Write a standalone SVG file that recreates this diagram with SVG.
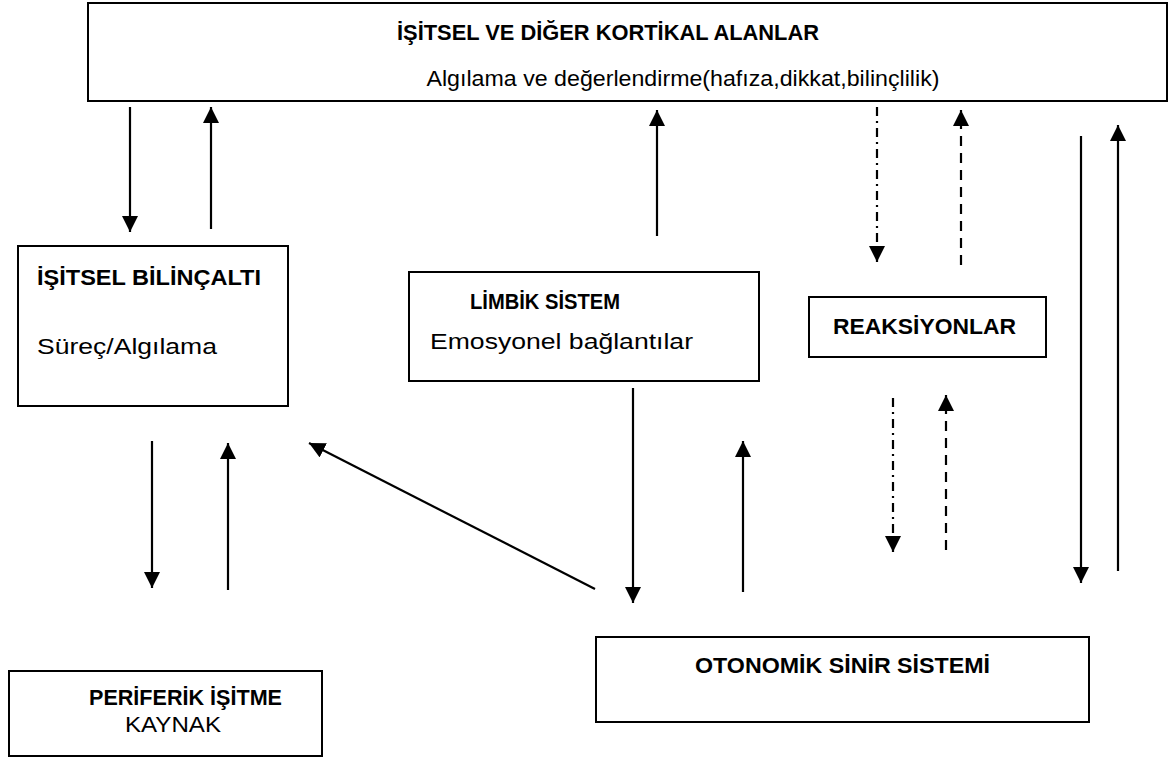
<svg xmlns="http://www.w3.org/2000/svg" width="1171" height="760" viewBox="0 0 1171 760">
<style>
.box{fill:#fff;stroke:#000;stroke-width:2}
.b{font-family:"Liberation Sans",Arial,sans-serif;font-weight:bold;font-size:22px;fill:#000}
.n{font-family:"Liberation Sans",Arial,sans-serif;font-size:22px;fill:#000}
.ln{stroke:#000;stroke-width:2.2;fill:none}
.dd{stroke-dasharray:9 5 2 5}
.da{stroke-dasharray:10 7}
</style>
<defs>
<marker id="ah" markerUnits="userSpaceOnUse" markerWidth="16" markerHeight="16" viewBox="0 0 16 16" refX="16" refY="8" orient="auto">
<path d="M0,0 L16,8 L0,16 z" fill="#000"/>
</marker>
</defs>
<rect width="1171" height="760" fill="#fff"/>
<g id="kortikal">
<rect class="box" x="88" y="3" width="1079" height="98"/>
<text class="b" x="608" y="40" text-anchor="middle" textLength="422" lengthAdjust="spacingAndGlyphs">İŞİTSEL VE DİĞER KORTİKAL ALANLAR</text>
<text class="n" x="683" y="86" text-anchor="middle" textLength="513" lengthAdjust="spacingAndGlyphs">Algılama ve değerlendirme(hafıza,dikkat,bilinçlilik)</text>
</g>
<g id="bilincalti">
<rect class="box" x="18" y="246" width="270" height="160"/>
<text class="b" x="37" y="285" textLength="224" lengthAdjust="spacingAndGlyphs">İŞİTSEL BİLİNÇALTI</text>
<text class="n" x="37" y="354" textLength="180" lengthAdjust="spacingAndGlyphs">Süreç/Algılama</text>
</g>
<g id="limbik">
<rect class="box" x="409" y="272" width="350" height="109"/>
<text class="b" x="470" y="309" textLength="150" lengthAdjust="spacingAndGlyphs">LİMBİK SİSTEM</text>
<text class="n" x="430" y="349" textLength="263" lengthAdjust="spacingAndGlyphs">Emosyonel bağlantılar</text>
</g>
<g id="reaksiyonlar">
<rect class="box" x="809" y="297" width="237" height="60"/>
<text class="b" x="833" y="334" textLength="183" lengthAdjust="spacingAndGlyphs">REAKSİYONLAR</text>
</g>
<g id="periferik">
<rect class="box" x="9" y="671" width="313" height="85"/>
<text class="b" x="89" y="705" textLength="193" lengthAdjust="spacingAndGlyphs">PERİFERİK İŞİTME</text>
<text class="n" x="125" y="732" textLength="96" lengthAdjust="spacingAndGlyphs">KAYNAK</text>
</g>
<g id="otonomik">
<rect class="box" x="596" y="637" width="493" height="85"/>
<text class="b" x="695" y="673" textLength="295" lengthAdjust="spacingAndGlyphs">OTONOMİK SİNİR SİSTEMİ</text>
</g>
<g id="connectors">
<line class="ln" x1="130" y1="107" x2="130" y2="232" marker-end="url(#ah)"/>
<line class="ln" x1="211" y1="229" x2="211" y2="107" marker-end="url(#ah)"/>
<line class="ln" x1="152" y1="441" x2="152" y2="588" marker-end="url(#ah)"/>
<line class="ln" x1="228" y1="590" x2="228" y2="443" marker-end="url(#ah)"/>
<line class="ln" x1="657" y1="236" x2="657" y2="110" marker-end="url(#ah)"/>
<line class="ln" x1="633" y1="388" x2="633" y2="603" marker-end="url(#ah)"/>
<line class="ln" x1="743" y1="592" x2="743" y2="441" marker-end="url(#ah)"/>
<line class="ln" x1="595" y1="589" x2="309" y2="443" marker-end="url(#ah)"/>
<line class="ln dd" x1="877" y1="107" x2="877" y2="262" marker-end="url(#ah)"/>
<line class="ln da" x1="961" y1="265" x2="961" y2="110" marker-end="url(#ah)"/>
<line class="ln dd" x1="893" y1="398" x2="893" y2="552" marker-end="url(#ah)"/>
<line class="ln da" x1="946" y1="550" x2="946" y2="395" marker-end="url(#ah)"/>
<line class="ln" x1="1081" y1="136" x2="1081" y2="583" marker-end="url(#ah)"/>
<line class="ln" x1="1118" y1="571" x2="1118" y2="125" marker-end="url(#ah)"/>
</g>
</svg>
